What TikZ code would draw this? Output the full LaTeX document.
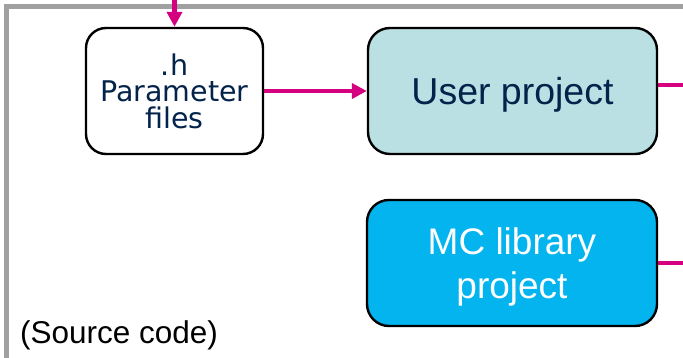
\documentclass[tikz,border=0pt]{standalone}
\usepackage{fontspec}
\setmainfont{Liberation Sans}
\newfontfamily\verdanalike{DejaVu Sans}
\usepackage{xcolor}
\definecolor{hpink}{RGB}{212,0,127}
\definecolor{hgrey}{RGB}{160,160,160}
\definecolor{hnavy}{RGB}{3,35,75}
\definecolor{hteal}{RGB}{186,224,227}
\definecolor{hcyan}{RGB}{3,180,238}
\usetikzlibrary{arrows.meta}
\tikzset{every picture/.style={x=1pt,y=-1pt}}

\begin{document}
\begin{tikzpicture}
\useasboundingbox (0,0) rectangle (683,358);
\clip (0,0) rectangle (683,358);
% outer frame
\draw[hgrey, line width=5pt] (6.5,380) -- (6.5,6.5) -- (700,6.5);
\node[draw, line width=2.4pt, rounded corners=20pt, fill=white, minimum width=177pt, minimum height=126pt, inner sep=0pt, align=center, text=hnavy, text depth=0pt, font=\verdanalike\fontsize{28.5}{26.5}\selectfont] (param) at (174.5,91) {.h\\Parameter\\files};
\node[draw, line width=2.4pt, rounded corners=22pt, fill=hteal, minimum width=289pt, minimum height=126pt, inner sep=0pt, text=hnavy, text depth=0pt, font=\fontsize{37.5}{40}\selectfont] (user) at (512.5,91) {User project};
\node[draw, line width=2.4pt, rounded corners=22pt, fill=hcyan, minimum width=290pt, minimum height=126pt, inner sep=0pt, align=center, text=white, text depth=0pt, font=\fontsize{37}{44}\selectfont] (mclib) at (512,263) {MC library\\project};
\node[anchor=base west, inner sep=0pt, font=\fontsize{31.5}{34}\selectfont] (src) at (20,343) {(Source code)};
\coordinate (top) at (174.5,0);
\coordinate (rightA) at (690,85);
\coordinate (rightB) at (690,263);
\draw[hpink, line width=4.5pt, -{Triangle[length=15pt,width=15pt]}] (top) -- (param.north);
\draw[hpink, line width=4.5pt, -{Triangle[length=15pt,width=15pt]}] (param.east) -- (user.west);
\draw[hpink, line width=4.5pt] ([yshift=6pt]user.east) -- (rightA);
\draw[hpink, line width=4.5pt] (mclib.east) -- (rightB);
\end{tikzpicture}
\end{document}
